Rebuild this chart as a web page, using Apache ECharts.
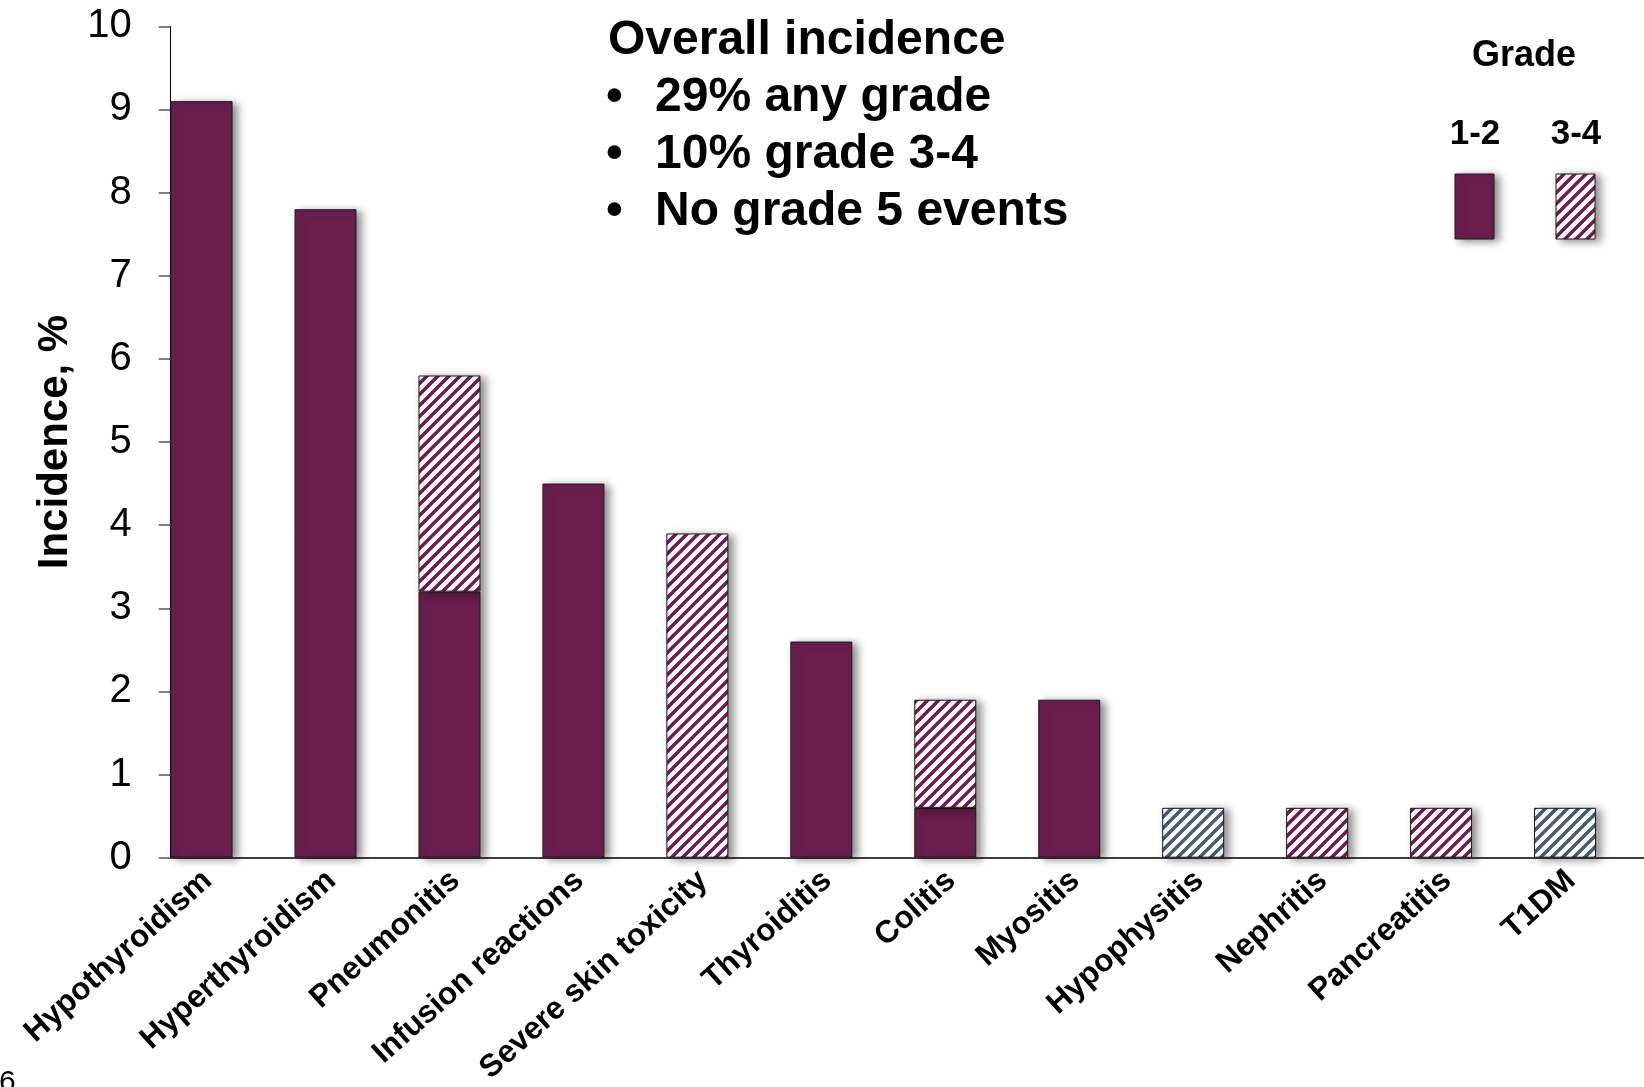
<!DOCTYPE html>
<html>
<head>
<meta charset="utf-8">
<script src="https://cdn.jsdelivr.net/npm/echarts@6/dist/echarts.min.js"></script>
<style>
  html, body { margin: 0; padding: 0; background: #fff; }
  #chart { width: 1644px; height: 1087px; }
</style>
</head>
<body>
<div id="chart"></div>
<script>
// Immune-related adverse events, incidence (%)
const categories = ['Hypothyroidism', 'Hyperthyroidism', 'Pneumonitis', 'Infusion reactions',
  'Severe skin toxicity', 'Thyroiditis', 'Colitis', 'Myositis', 'Hypophysitis',
  'Nephritis', 'Pancreatitis', 'T1DM'];
const grade12 = [9.1, 7.8, 3.2, 4.5, '-', 2.6, 0.6, 1.9, '-', '-', '-', '-'];
const grade34 = ['-', '-', 2.6, '-', 3.9, '-', 1.3, '-', '-', 0.6, 0.6, '-'];
const grade34Endocrine = ['-', '-', '-', '-', '-', '-', '-', '-', 0.6, '-', '-', 0.6];
const yTicks = { min: 0, max: 10, interval: 1 };
const summaryLines = ['29% any grade', '10% grade 3-4', 'No grade 5 events'];

const PURPLE = '#6C1E4E';
const SLATE = '#4B5A70';
const FONT = '"Liberation Sans", Arial, Helvetica, sans-serif';

// Diagonal "/" stripe tile for grade 3-4 fills
function hatch(color) {
  const P = 11;
  const c = document.createElement('canvas');
  c.width = P; c.height = P;
  const g = c.getContext('2d');
  g.fillStyle = '#ffffff';
  g.fillRect(0, 0, P, P);
  g.strokeStyle = color;
  g.lineWidth = 3.4;
  g.beginPath();
  g.moveTo(-3, 3); g.lineTo(3, -3);
  g.moveTo(-1, P + 1); g.lineTo(P + 1, -1);
  g.moveTo(P - 3, P + 3); g.lineTo(P + 3, P - 3);
  g.stroke();
  return { image: c, repeat: 'repeat' };
}

const shadow = {
  shadowBlur: 8,
  shadowOffsetX: 5,
  shadowOffsetY: 2,
  shadowColor: 'rgba(0,0,0,0.45)'
};

function barStyle(fill) {
  return Object.assign({ color: fill, borderColor: '#1a1a1a', borderWidth: 1 }, shadow);
}

const chart = echarts.init(document.getElementById('chart'), null, { renderer: 'canvas' });

// Summary box: heading and three bullet lines
const SUM_FONT = 'bold 48px ' + FONT;
const summaryGraphics = [{
  type: 'text', left: 608, top: 17,
  style: { text: 'Overall incidence', font: SUM_FONT, fill: '#000' }
}];
summaryLines.forEach((t, i) => {
  summaryGraphics.push({
    type: 'text', left: 606, top: 74 + i * 56.7,
    style: { text: '•', font: SUM_FONT, fill: '#000' }
  });
  summaryGraphics.push({
    type: 'text', left: 655, top: 74 + i * 56.7,
    style: { text: t, font: SUM_FONT, fill: '#000' }
  });
});

// Grade key in the upper right
const legendGraphics = [
  { type: 'text', style: { x: 1524, y: 56, text: 'Grade', font: 'bold 36px ' + FONT, fill: '#000', align: 'center', verticalAlign: 'middle' } },
  { type: 'text', style: { x: 1475, y: 134, text: '1-2', font: 'bold 35px ' + FONT, fill: '#000', align: 'center', verticalAlign: 'middle' } },
  { type: 'text', style: { x: 1576, y: 134, text: '3-4', font: 'bold 35px ' + FONT, fill: '#000', align: 'center', verticalAlign: 'middle' } },
  { type: 'rect', shape: { x: 1455, y: 174, width: 39, height: 65 },
    style: Object.assign({ fill: PURPLE, stroke: '#1a1a1a', lineWidth: 1 }, shadow) },
  { type: 'rect', shape: { x: 1556, y: 174, width: 39, height: 65 },
    style: Object.assign({ fill: hatch(PURPLE), stroke: '#1a1a1a', lineWidth: 1 }, shadow) },
  { type: 'text', style: { x: -1, y: 1068, text: '6', font: '30px ' + FONT, fill: '#000' } }
];

const plotTop = 26.3;
const plotBottom = 1087 - 857.7;

chart.setOption({
  animation: false,
  backgroundColor: '#ffffff',
  textStyle: { fontFamily: FONT },
  grid: [
    { left: 139.6, right: 17, top: plotTop, bottom: plotBottom, containLabel: false, outerBoundsMode: 'none' },
    { left: 170.7, right: 0, top: plotTop, bottom: plotBottom, containLabel: false, outerBoundsMode: 'none' }
  ],
  xAxis: [{
    type: 'category',
    gridIndex: 0,
    data: categories,
    axisLine: { show: false },
    axisTick: { show: false },
    axisLabel: {
      interval: 0,
      rotate: 42,
      margin: 24,
      padding: [0, -8, 0, 0],
      color: '#000',
      fontFamily: FONT,
      fontWeight: 'bold',
      fontSize: 31.5
    }
  }, {
    type: 'value',
    gridIndex: 1,
    min: 0, max: 1,
    axisLine: { show: true, lineStyle: { color: '#000', width: 1.5 } },
    axisTick: { show: false },
    axisLabel: { show: false },
    splitLine: { show: false }
  }],
  yAxis: [{
    type: 'value',
    gridIndex: 0,
    min: yTicks.min, max: yTicks.max, interval: yTicks.interval,
    show: false,
    splitLine: { show: false }
  }, {
    type: 'value',
    gridIndex: 1,
    min: yTicks.min, max: yTicks.max, interval: yTicks.interval,
    name: 'Incidence, %',
    nameLocation: 'middle',
    nameRotate: 90,
    nameGap: 93,
    nameTextStyle: { fontFamily: FONT, fontWeight: 'bold', fontSize: 42, color: '#000' },
    axisLine: { show: true, lineStyle: { color: '#000', width: 1 } },
    axisTick: { show: true, inside: false, length: 12, lineStyle: { color: '#555', width: 1.5 } },
    axisLabel: { margin: 39, color: '#000', fontFamily: FONT, fontSize: 40 },
    splitLine: { show: false }
  }],
  series: [{
    name: '1-2',
    type: 'bar',
    xAxisIndex: 0, yAxisIndex: 0,
    stack: 'grade',
    barWidth: '50%',
    data: grade12,
    itemStyle: barStyle(PURPLE),
    z: 3
  }, {
    name: '3-4',
    type: 'bar',
    xAxisIndex: 0, yAxisIndex: 0,
    stack: 'grade',
    barWidth: '50%',
    data: grade34,
    itemStyle: barStyle(hatch(PURPLE)),
    z: 3
  }, {
    name: '3-4 endocrine',
    type: 'bar',
    xAxisIndex: 0, yAxisIndex: 0,
    stack: 'grade',
    barWidth: '50%',
    data: grade34Endocrine,
    itemStyle: barStyle(hatch(SLATE)),
    z: 3
  }],
  graphic: summaryGraphics.concat(legendGraphics)
});
</script>
</body>
</html>
